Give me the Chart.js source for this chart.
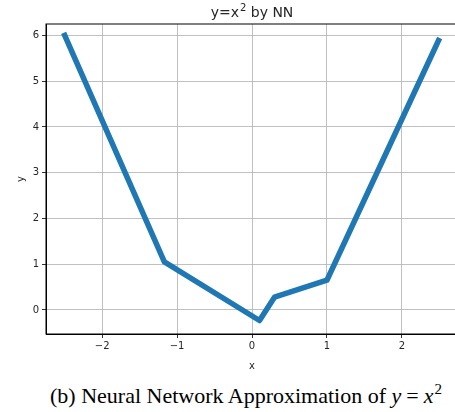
<!DOCTYPE html>
<html>
<head>
<meta charset="utf-8">
<script src="https://cdn.jsdelivr.net/npm/chart.js@4.4.0/dist/chart.umd.min.js"></script>
<style>
    html, body { margin: 0; padding: 0; background: #fff; overflow: hidden; }
    body { width: 455px; height: 412px; position: relative; }
    #wrap { position: absolute; left: 0; top: 0; width: 458px; height: 372px; }
    #caption {
        position: absolute; left: 246px; top: 385px; transform: translateX(-50%);
        white-space: nowrap; line-height: 22px;
        font-family: "Liberation Serif", "DejaVu Serif", serif; font-size: 22px; color: #000;
    }
    #caption .eq { margin: 0 5px; }
    #caption sup { font-size: 15px; line-height: 0; vertical-align: 9px; margin-left: 1px; }
</style>
</head>
<body>
<div id="wrap"><canvas id="nnChart"></canvas></div>
<div id="caption">(b) Neural Network Approximation of <i>y</i><span class="eq">=</span><i>x</i><sup>2</sup></div>
<script>
// Data
const xValues = [-2.5, -1.17, 0.1, 0.3, 1.0, 2.49];
const yValues = [6.0, 1.05, -0.23, 0.28, 0.65, 5.89];
const xTicks = [-2, -1, 0, 1, 2];
const yTicks = [0, 1, 2, 3, 4, 5, 6];

const tickFont = { family: 'DejaVu Sans', size: 10 };
const textColor = '#262626';

// Frame the plot area like matplotlib spines, and put the title over the axes
const frame = {
    id: 'frame',
    afterDraw(chart) {
        const { ctx, chartArea: a } = chart;
        ctx.save();
        ctx.strokeStyle = '#000';
        ctx.lineWidth = 1;
        ctx.strokeRect(a.left, a.top, a.right - a.left, a.bottom - a.top);

        // title "y=x² by NN"
        const big = '14px "DejaVu Sans"';
        const small = '10px "DejaVu Sans"';
        ctx.fillStyle = textColor;
        ctx.textBaseline = 'alphabetic';
        ctx.font = big;
        const w1 = ctx.measureText('y=x').width;
        const w3 = ctx.measureText(' by NN').width;
        ctx.font = small;
        const w2 = ctx.measureText('2').width + 1;
        let x = (a.left + a.right) / 2 - (w1 + w2 + w3) / 2;
        const base = 17;
        ctx.font = big;
        ctx.fillText('y=x', x, base);
        ctx.font = small;
        ctx.fillText('2', x + w1 + 1, base - 6);
        ctx.font = big;
        ctx.fillText(' by NN', x + w1 + w2, base);
        ctx.restore();
    }
};

const ctx = document.getElementById('nnChart').getContext('2d');
new Chart(ctx, {
    type: 'scatter',
    data: {
        datasets: [{
            data: xValues.map((x, i) => ({ x: x, y: yValues[i] })),
            showLine: true,
            borderColor: '#1f77b4',
            borderWidth: 5.5,
            borderCapStyle: 'square',
            borderJoinStyle: 'round',
            pointRadius: 0,
            tension: 0
        }]
    },
    options: {
        responsive: true,
        maintainAspectRatio: false,
        animation: false,
        layout: { padding: { top: 24 } },
        plugins: {
            legend: { display: false },
            tooltip: { enabled: false },
            title: { display: false }
        },
        scales: {
            x: {
                type: 'linear',
                min: -2.75,
                max: 2.75,
                afterBuildTicks: s => { s.ticks = xTicks.map(v => ({ value: v })); },
                afterFit: s => { s.height = 38; },
                ticks: {
                    color: textColor, font: tickFont, padding: 2,
                    callback: v => String(v).replace('-', '\u2212')
                },
                grid: { color: '#b0b0b0', lineWidth: 0.8, tickColor: '#000', tickLength: 4 },
                border: { color: '#000', width: 1 },
                title: { display: true, text: 'x', color: textColor, font: tickFont, padding: { top: 4, bottom: 0 } }
            },
            y: {
                type: 'linear',
                min: -0.525,
                max: 6.25,
                afterBuildTicks: s => { s.ticks = yTicks.map(v => ({ value: v })); },
                afterFit: s => { s.width = 46; },
                ticks: { color: textColor, font: tickFont, padding: 3 },
                grid: { color: '#b0b0b0', lineWidth: 0.8, tickColor: '#000', tickLength: 4 },
                border: { color: '#000', width: 1 },
                title: { display: true, text: 'y', color: textColor, font: tickFont, padding: { top: 15, bottom: 0 } }
            }
        }
    },
    plugins: [frame]
});
</script>
</body>
</html>
